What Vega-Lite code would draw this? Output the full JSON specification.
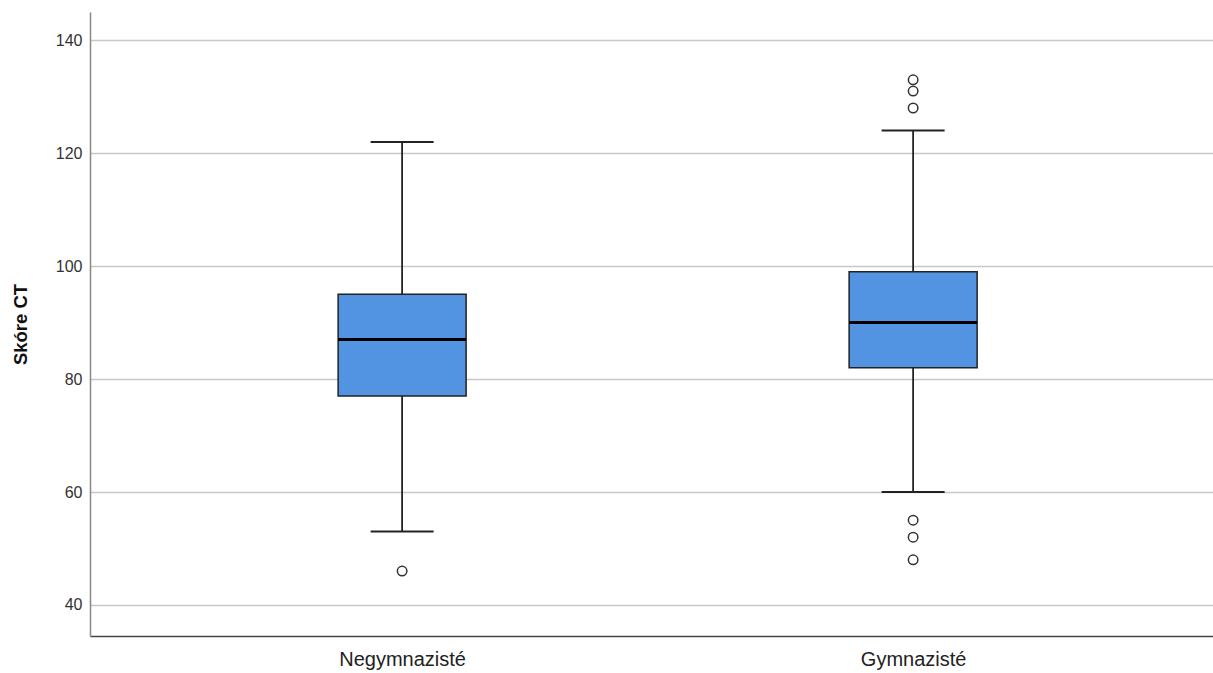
{
  "$schema": "https://vega.github.io/schema/vega-lite/v6.json",
  "autosize": {"type": "none"},
  "width": 1123,
  "height": 624,
  "padding": {"left": 90, "top": 12, "right": 0, "bottom": 37},
  "background": "white",
  "config": {
    "view": {"stroke": null},
    "font": "Liberation Sans"
  },
  "datasets": {
    "boxes": [
      {"group": "Negymnazisté", "lower": 53, "q1": 77, "median": 87, "q3": 95, "upper": 122},
      {"group": "Gymnazisté", "lower": 60, "q1": 82, "median": 90, "q3": 99, "upper": 124}
    ],
    "outliers": [
      {"group": "Negymnazisté", "value": 46},
      {"group": "Gymnazisté", "value": 133},
      {"group": "Gymnazisté", "value": 131},
      {"group": "Gymnazisté", "value": 128},
      {"group": "Gymnazisté", "value": 55},
      {"group": "Gymnazisté", "value": 52},
      {"group": "Gymnazisté", "value": 48}
    ]
  },
  "data": {"name": "boxes"},
  "encoding": {
    "x": {
      "field": "group",
      "type": "nominal",
      "sort": ["Negymnazisté", "Gymnazisté"],
      "scale": {"type": "point", "padding": 0.5988, "align": 0.51},
      "axis": {
        "title": null,
        "labelAngle": 0,
        "ticks": false,
        "grid": false,
        "domainColor": "#444444",
        "domainWidth": 1.5,
        "labelFontSize": 20,
        "labelColor": "#222222",
        "labelPadding": 13
      }
    }
  },
  "layer": [
    {
      "mark": {"type": "rule", "color": "#222222", "strokeWidth": 1.8},
      "encoding": {
        "y": {
          "field": "lower",
          "type": "quantitative",
          "scale": {"domain": [34.5, 145], "nice": false, "zero": false},
          "axis": {
            "title": "Skóre CT",
            "titleFontSize": 18.5,
            "titleFontWeight": "bold",
            "titleColor": "#111111",
            "titlePadding": 25,
            "values": [40, 60, 80, 100, 120, 140],
            "ticks": false,
            "labelPadding": 8,
            "labelFontSize": 16,
            "labelColor": "#333333",
            "grid": true,
            "gridColor": "#c8c8c8",
            "gridWidth": 1.5,
            "domainColor": "#888888",
            "domainWidth": 1.5
          }
        },
        "y2": {"field": "q1"}
      }
    },
    {
      "mark": {"type": "rule", "color": "#222222", "strokeWidth": 1.8},
      "encoding": {
        "y": {"field": "q3", "type": "quantitative"},
        "y2": {"field": "upper"}
      }
    },
    {
      "mark": {"type": "tick", "color": "#222222", "size": 63, "thickness": 2, "opacity": 1},
      "encoding": {"y": {"field": "lower", "type": "quantitative"}}
    },
    {
      "mark": {"type": "tick", "color": "#222222", "size": 63, "thickness": 2, "opacity": 1},
      "encoding": {"y": {"field": "upper", "type": "quantitative"}}
    },
    {
      "mark": {"type": "bar", "size": 128, "fill": "#5294e2", "stroke": "#222222", "strokeWidth": 1.5},
      "encoding": {
        "y": {"field": "q1", "type": "quantitative"},
        "y2": {"field": "q3"}
      }
    },
    {
      "mark": {"type": "tick", "color": "#000000", "size": 128, "thickness": 3, "opacity": 1},
      "encoding": {"y": {"field": "median", "type": "quantitative"}}
    },
    {
      "data": {"name": "outliers"},
      "mark": {"type": "point", "shape": "circle", "filled": false, "fill": "white", "stroke": "#333333", "strokeWidth": 1.5, "size": 90, "opacity": 1},
      "encoding": {"y": {"field": "value", "type": "quantitative"}}
    }
  ]
}
